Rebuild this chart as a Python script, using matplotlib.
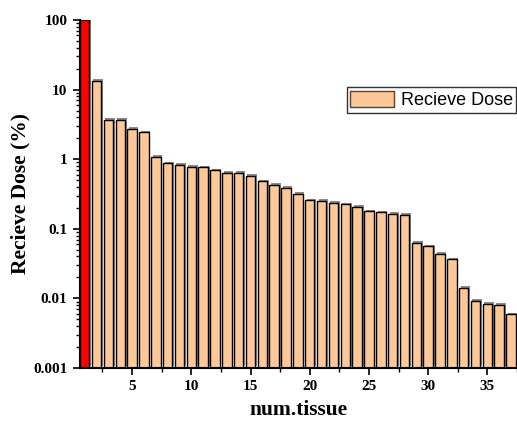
import matplotlib
matplotlib.use("Agg")
import matplotlib.pyplot as plt
import matplotlib.patheffects as pe
from matplotlib.ticker import FixedLocator, FixedFormatter, LogLocator, MultipleLocator, NullFormatter
import numpy as np

# tissue index and received dose (%)
tissue = list(range(1, 38))
dose = [100, 13.3, 3.7, 3.7, 2.72, 2.42, 1.08, 0.87, 0.83, 0.78,
        0.76, 0.69, 0.64, 0.64, 0.58, 0.48, 0.43, 0.39, 0.317, 0.255,
        0.252, 0.233, 0.223, 0.206, 0.177, 0.171, 0.164, 0.157, 0.0614, 0.055,
        0.0427, 0.0354, 0.0132, 0.0083, 0.0074, 0.0071, 0.0049]
y_ticks = [0.001, 0.01, 0.1, 1, 10, 100]
y_labels = ["0.001", "0.01", "0.1", "1", "10", "100"]

peach = "#FDC897"
colors = ["#FF0000"] + [peach] * (len(tissue) - 1)

fig = plt.figure(figsize=(5.17, 4.21), dpi=100)
ax = fig.add_axes([0.1547, 0.1259, 0.8453, 0.8266])

shadow = [pe.SimplePatchShadow(offset=(1.2, 1.2), shadow_rgbFace="0.35", alpha=0.7), pe.Normal()]
bars = ax.bar(tissue, dose, width=0.8, color=colors, edgecolor="black", linewidth=1.0,
              label="Recieve Dose", bottom=0.001)
for b in bars:
    b.set_path_effects(shadow)

ax.set_yscale("log")
ax.set_ylim(0.001, 100)
ax.set_xlim(0.6, 37.5)

ax.yaxis.set_major_locator(FixedLocator(y_ticks))
ax.yaxis.set_major_formatter(FixedFormatter(y_labels))
ax.yaxis.set_minor_locator(LogLocator(base=10, subs=np.arange(2, 10)))
ax.yaxis.set_minor_formatter(NullFormatter())
ax.xaxis.set_major_locator(MultipleLocator(5))
ax.xaxis.set_minor_locator(MultipleLocator(2.5))

for s in ["top", "right"]:
    ax.spines[s].set_visible(False)
for s in ["left", "bottom"]:
    ax.spines[s].set_linewidth(1.5)

ax.tick_params(which="major", direction="out", length=5, width=1.2, pad=4)
ax.tick_params(which="minor", direction="out", length=3, width=1.0)
for lab in ax.get_xticklabels() + ax.get_yticklabels():
    lab.set_fontfamily("Liberation Serif")
    lab.set_fontweight("bold")
    lab.set_fontsize(11)

ax.set_xlabel("num.tissue", fontfamily="Liberation Serif", fontweight="bold", fontsize=15.5, labelpad=5)
ax.set_ylabel("Recieve Dose (%)", fontfamily="Liberation Serif", fontweight="bold", fontsize=15.5, labelpad=2)

handle = plt.Rectangle((0, 0), 1, 1, facecolor=peach, edgecolor="#5a4030", linewidth=1.0)
leg = ax.legend([handle], ["Recieve Dose"], loc="upper left", bbox_to_anchor=(0.61, 0.807),
                prop={"family": "Liberation Sans", "size": 13}, frameon=True, fancybox=False,
                edgecolor="black", handlelength=2.4, handleheight=1.0, borderpad=0.2,
                handletextpad=0.4, borderaxespad=0)
leg.get_frame().set_linewidth(1.0)

fig.savefig("out.png", dpi=100)
